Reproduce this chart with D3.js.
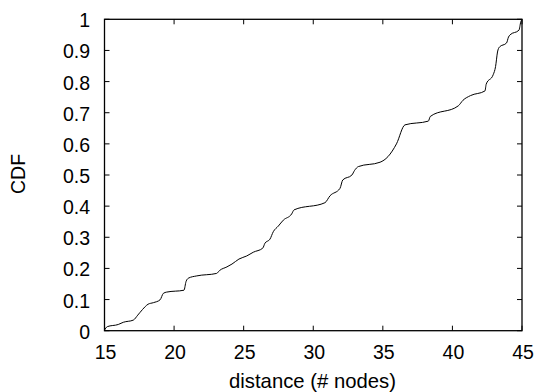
<!DOCTYPE html>
<html>
<head>
<meta charset="utf-8">
<script src="https://cdn.jsdelivr.net/npm/d3@7"></script>
<style>
  body { margin: 0; background: #fff; }
  svg text { font-family: "Liberation Sans", Arial, sans-serif; fill: #000; }
</style>
</head>
<body>
<div id="viz"></div>
<script>
// CDF curve
const distance = [15.0, 15.2, 15.99, 16.35, 17.07, 17.39, 17.73, 18.13, 18.51, 18.99,
  19.23, 19.47, 20.71, 20.86, 21.04, 21.63, 23.06, 23.26, 23.80, 24.16,
  24.66, 25.22, 25.69, 26.37, 26.53, 26.89, 27.13, 27.49, 27.85, 28.45,
  28.62, 30.84, 31.20, 31.92, 32.12, 32.78, 32.96, 33.24, 34.80, 35.37,
  35.98, 36.59, 38.27, 38.41, 40.42, 40.76, 41.30, 42.34, 42.43, 42.93,
  43.10, 43.24, 43.38, 43.89, 44.03, 44.14, 44.78, 44.91, 45.0];
const cdf = [0.002, 0.013, 0.020, 0.027, 0.034, 0.050, 0.068, 0.085, 0.090, 0.099,
  0.120, 0.124, 0.130, 0.158, 0.169, 0.176, 0.184, 0.193, 0.205, 0.214,
  0.230, 0.240, 0.252, 0.265, 0.281, 0.294, 0.318, 0.336, 0.355, 0.375,
  0.388, 0.411, 0.433, 0.457, 0.484, 0.500, 0.514, 0.527, 0.541, 0.559,
  0.600, 0.661, 0.673, 0.688, 0.722, 0.740, 0.755, 0.770, 0.792, 0.822,
  0.848, 0.895, 0.911, 0.924, 0.943, 0.950, 0.965, 0.991, 1.0];
const xTicks = [15, 20, 25, 30, 35, 40, 45];
const yTicks = [0, 0.1, 0.2, 0.3, 0.4, 0.5, 0.6, 0.7, 0.8, 0.9, 1];

const width = 538, height = 392;
const m = { left: 104.5, right: 522, top: 19.3, bottom: 330.7 };
const tickLen = 5;

const svg = d3.select("#viz").append("svg")
  .attr("width", width)
  .attr("height", height);

const x = d3.scaleLinear().domain([15, 45]).range([m.left, m.right]);
const y = d3.scaleLinear().domain([0, 1]).range([m.bottom, m.top]);

// ticks on all four sides, pointing inward
const g = svg.append("g").attr("stroke", "#000").attr("stroke-width", 1);
xTicks.forEach(t => {
  g.append("line").attr("x1", x(t)).attr("x2", x(t)).attr("y1", m.bottom).attr("y2", m.bottom - tickLen);
  g.append("line").attr("x1", x(t)).attr("x2", x(t)).attr("y1", m.top).attr("y2", m.top + tickLen);
});
yTicks.forEach(t => {
  g.append("line").attr("x1", m.left).attr("x2", m.left + tickLen).attr("y1", y(t)).attr("y2", y(t));
  g.append("line").attr("x1", m.right).attr("x2", m.right - tickLen).attr("y1", y(t)).attr("y2", y(t));
});

svg.selectAll(".xl").data(xTicks).enter().append("text")
  .attr("x", d => x(d) + 1)
  .attr("y", 359)
  .attr("text-anchor", "middle")
  .attr("font-size", "19.5px")
  .text(d => d);

svg.selectAll(".yl").data(yTicks).enter().append("text")
  .attr("x", 90)
  .attr("y", d => y(d))
  .attr("dy", "0.41em")
  .attr("text-anchor", "end")
  .attr("font-size", "19.5px")
  .text(d => d);

// the curve
const pts = distance.map((d, i) => [d, cdf[i]]);
const line = d3.line()
  .x(d => x(d[0]))
  .y(d => y(d[1]))
  .curve(d3.curveMonotoneX);

svg.append("path")
  .datum(pts)
  .attr("d", line)
  .attr("fill", "none")
  .attr("stroke", "#000")
  .attr("stroke-width", 1);

// frame
svg.append("rect")
  .attr("x", m.left).attr("y", m.top)
  .attr("width", m.right - m.left).attr("height", m.bottom - m.top)
  .attr("fill", "none")
  .attr("stroke", "#000")
  .attr("stroke-width", 1.3);

svg.append("text")
  .attr("x", 312.5)
  .attr("y", 388)
  .attr("text-anchor", "middle")
  .attr("font-size", "20.3px")
  .text("distance (# nodes)");

svg.append("text")
  .attr("transform", `translate(25,174) rotate(-90)`)
  .attr("text-anchor", "middle")
  .attr("font-size", "19.5px")
  .text("CDF");
</script>
</body>
</html>
